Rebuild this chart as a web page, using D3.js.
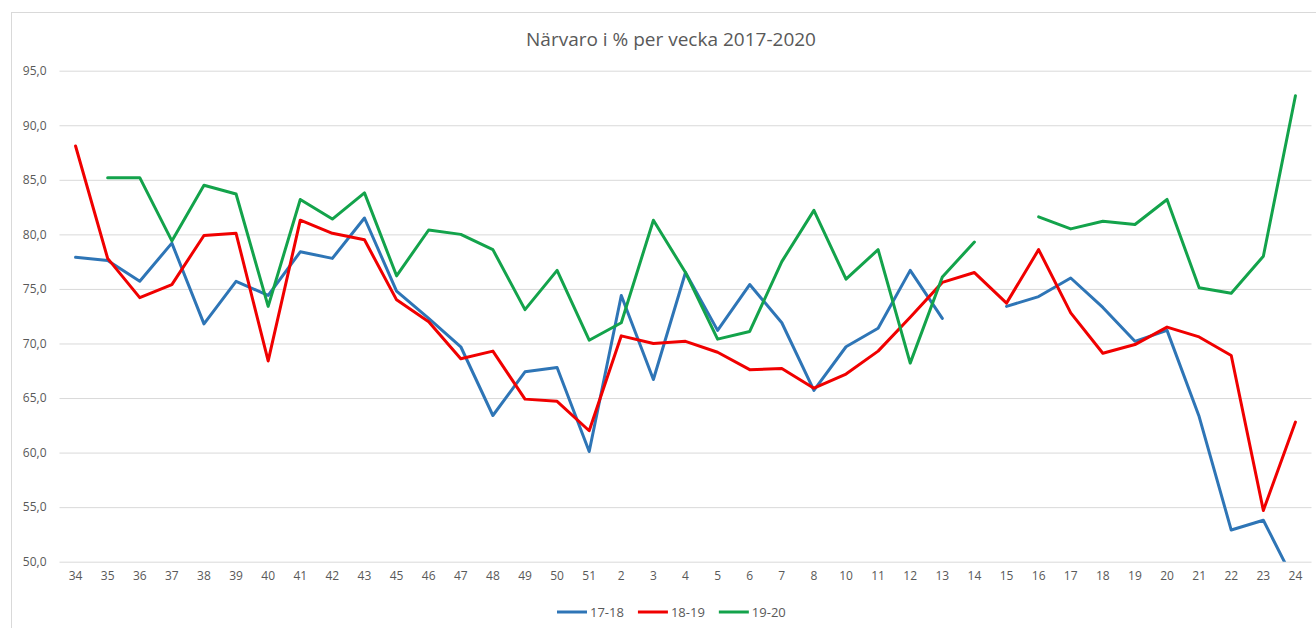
<!DOCTYPE html>
<html>
<head>
<meta charset="utf-8">
<script src="https://d3js.org/d3.v7.min.js"></script>
<style>
  body { margin: 0; background: #fff; }
  text { font-family: "Open Sans", sans-serif; fill: #595959; }
</style>
</head>
<body>
<script>
// Weeks (school year, week 44 and 9 missing)
var weeks = ["34","35","36","37","38","39","40","41","42","43","45","46","47","48","49","50","51",
             "2","3","4","5","6","7","8","10","11","12","13","14","15","16","17","18","19","20","21","22","23","24"];

var s1718 = [77.9,77.6,75.7,79.2,71.8,75.7,74.4,78.4,77.8,81.5,74.8,72.3,69.7,63.4,67.4,67.8,60.1,
             74.4,66.7,76.5,71.2,75.4,71.9,65.7,69.7,71.4,76.7,72.3,null,73.4,74.3,76.0,73.3,70.2,71.2,63.3,52.9,53.8,48.0];
var s1819 = [88.1,77.8,74.2,75.4,79.9,80.1,68.4,81.3,80.1,79.5,74.0,72.0,68.6,69.3,64.9,64.7,62.0,
             70.7,70.0,70.2,69.2,67.6,67.7,65.9,67.2,69.3,72.4,75.6,76.5,73.7,78.6,72.8,69.1,69.9,71.5,70.6,68.9,54.7,62.8];
var s1920 = [null,85.2,85.2,79.4,84.5,83.7,73.4,83.2,81.4,83.8,76.2,80.4,80.0,78.6,73.1,76.7,70.3,
             71.9,81.3,76.5,70.4,71.1,77.5,82.2,75.9,78.6,68.2,76.1,79.3,null,81.6,80.5,81.2,80.9,83.2,75.1,74.6,78.0,92.7];

var seriesNames = ["17-18", "18-19", "19-20"];
var seriesColors = ["#2E75B6", "#F00000", "#13A34B"];
var yTicks = [50, 55, 60, 65, 70, 75, 80, 85, 90, 95];

var width = 1316, height = 628;
var plot = {left: 59.5, right: 1311.5, top: 70.7, bottom: 561.7};

var svg = d3.select("body").append("svg")
    .attr("width", width)
    .attr("height", height);

// chart frame (cropped at right / bottom like the screenshot)
svg.append("rect")
    .attr("x", 11.5).attr("y", 12.5)
    .attr("width", width + 20).attr("height", height + 20)
    .attr("fill", "#fff")
    .attr("stroke", "#d9d9d9");

var x = d3.scaleBand()
    .domain(weeks)
    .range([plot.left, plot.right]);
var y = d3.scaleLinear()
    .domain([50, 95])
    .range([plot.bottom, plot.top]);

var fmt = function(d) { return d3.format(".1f")(d).replace(".", ","); };

// gridlines + y labels
var yAxis = svg.append("g")
    .attr("transform", "translate(" + plot.left + ",0)")
    .call(d3.axisLeft(y).tickValues(yTicks).tickFormat(fmt)
          .tickSize(-(plot.right - plot.left)).tickPadding(13));
yAxis.select(".domain").remove();
yAxis.selectAll("line").attr("stroke", "#d9d9d9");
yAxis.selectAll("text").style("font-size", "12px").attr("fill", "#595959");

// x labels
var xAxis = svg.append("g")
    .attr("transform", "translate(0," + plot.bottom + ")")
    .call(d3.axisBottom(x).tickSize(0).tickPadding(10));
xAxis.select(".domain").remove();
xAxis.selectAll("text").style("font-size", "12px").attr("fill", "#595959");

// title
svg.append("text")
    .attr("x", 671)
    .attr("y", 46)
    .attr("text-anchor", "middle")
    .style("font-size", "19px")
    .text("Närvaro i % per vecka 2017-2020");

svg.append("clipPath").attr("id", "plotclip")
  .append("rect")
    .attr("x", plot.left).attr("y", plot.top - 10)
    .attr("width", plot.right - plot.left)
    .attr("height", plot.bottom - plot.top + 10);

var line = d3.line()
    .defined(function(d) { return d != null; })
    .x(function(d, i) { return x(weeks[i]) + x.bandwidth() / 2; })
    .y(function(d) { return y(d); });

var allSeries = [s1718, s1819, s1920];

svg.append("g").attr("clip-path", "url(#plotclip)")
  .selectAll("path")
    .data(allSeries)
  .enter().append("path")
    .attr("d", line)
    .attr("fill", "none")
    .attr("stroke", function(d, i) { return seriesColors[i]; })
    .attr("stroke-width", 3)
    .attr("stroke-linejoin", "round")
    .attr("stroke-linecap", "round");

// legend
var legend = svg.append("g").attr("transform", "translate(557,612)");
var lx = 0;
seriesNames.forEach(function(name, i) {
  var g = legend.append("g").attr("transform", "translate(" + lx + ",0)");
  g.append("line")
      .attr("x1", 0).attr("x2", 30)
      .attr("stroke", seriesColors[i])
      .attr("stroke-width", 3);
  var t = g.append("text")
      .attr("x", 33)
      .attr("dy", "0.35em")
      .style("font-size", "13px")
      .text(name);
  lx += 33 + t.node().getComputedTextLength() + 14;
});
</script>
</body>
</html>
